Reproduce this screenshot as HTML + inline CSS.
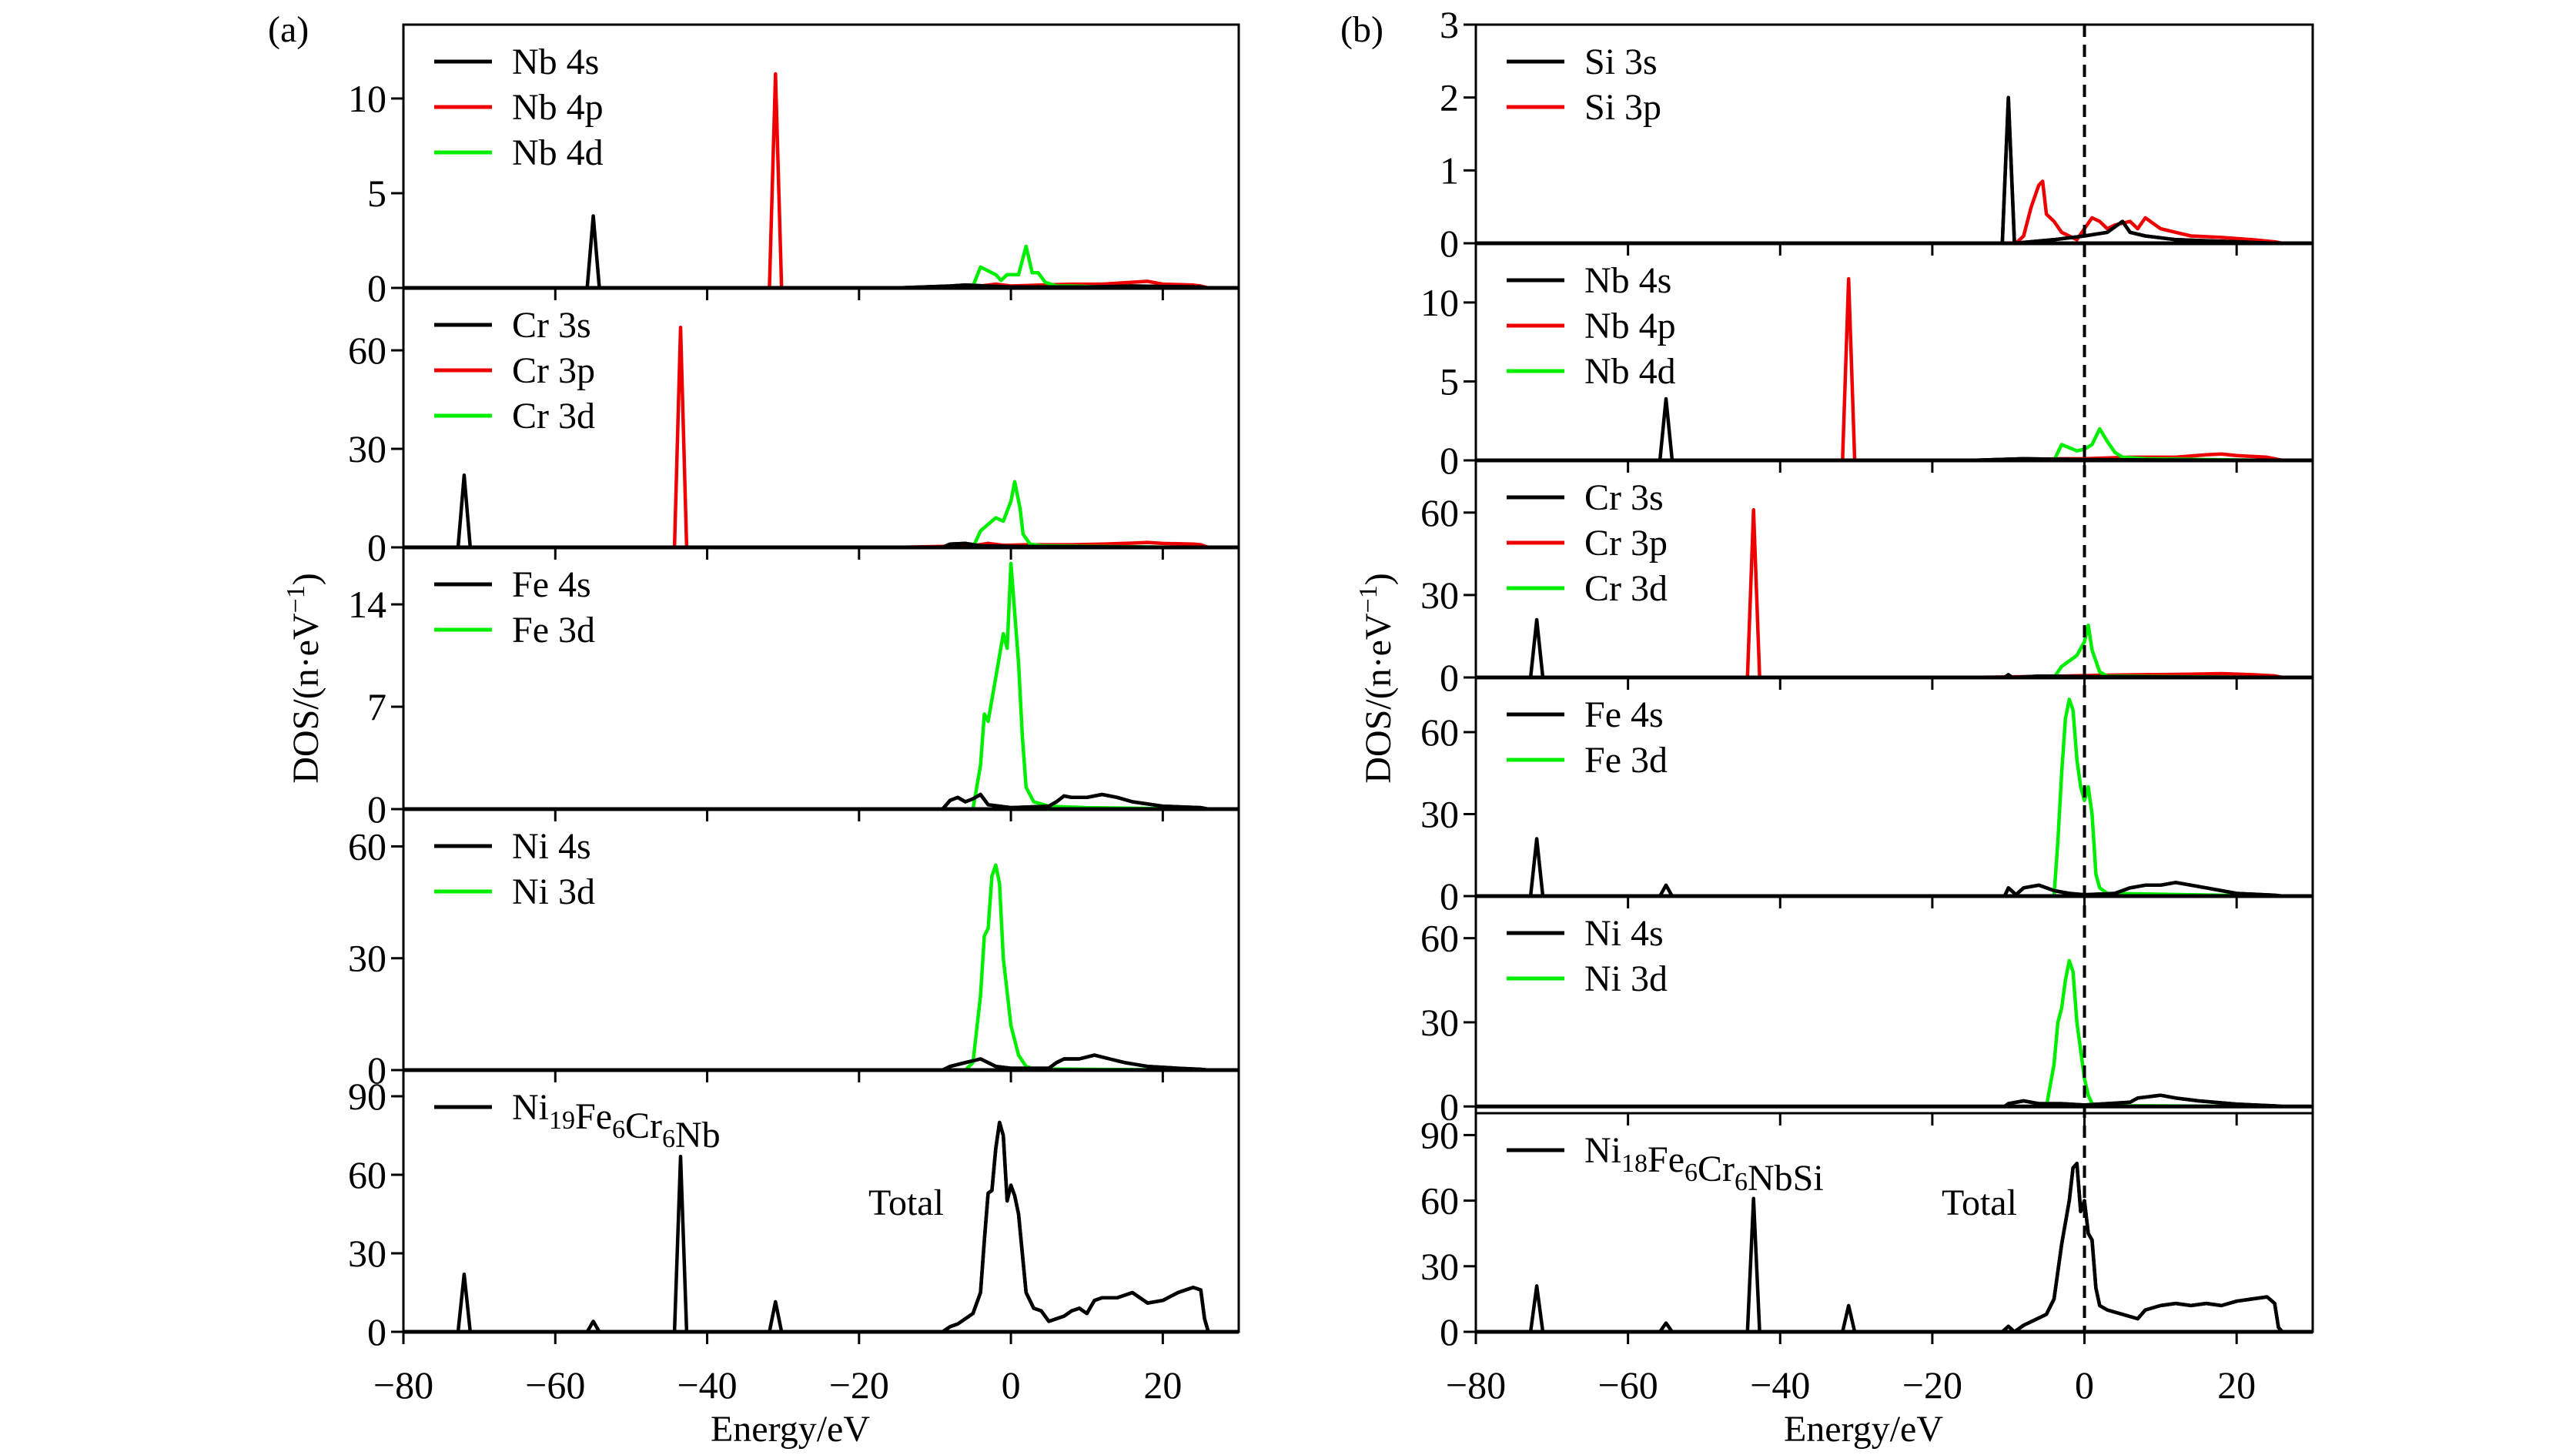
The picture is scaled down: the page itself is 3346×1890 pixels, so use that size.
<!DOCTYPE html>
<html><head><meta charset="utf-8"><style>
html,body{margin:0;padding:0;background:#fff;}
svg{display:block;font-family:"Liberation Serif",serif;}
</style></head><body>
<svg id="fig" width="3346" height="1890" viewBox="0 0 3346 1890" xmlns="http://www.w3.org/2000/svg"></svg>
<script>
const xTicks = [-80,-60,-40,-20,0,20];
const xTickLabels = ["\u221280","\u221260","\u221240","\u221220","0","20"];
// series: [energy, dos] pairs
const aNb4s = [[-74,0],[-55.8,0],[-55,3.8],[-54.2,0],[-15,0],[-8,0.1],[-6,0.15],[0,0.05],[10,0.05],[16,0.1],[25,0.05],[26,0]];
const aNb4p = [[-74,0],[-31.8,0],[-31,11.3],[-30.2,0],[-15,0],[-4,0.1],[-2,0.2],[0,0.1],[4,0.15],[8,0.2],[12,0.2],[16,0.3],[18,0.35],[20,0.2],[24,0.15],[25,0.1],[26,0]];
const aNb4d = [[-74,0],[-15,0],[-5,0.1],[-4,1.1],[-3,0.9],[-2,0.7],[-1.3,0.4],[-0.5,0.7],[1,0.7],[2,2.2],[2.8,0.8],[3.6,0.8],[4.5,0.3],[6,0.1],[8,0.1],[12,0.05],[25,0]];
const aCr3s = [[-74,0],[-72.8,0],[-72,22],[-71.2,0],[-15,0],[-9,0],[-8,1],[-6,1.2],[-4,0.5],[0,0.3],[25,0]];
const aCr3p = [[-74,0],[-44.3,0],[-43.5,67],[-42.7,0],[-15,0],[-5,0.5],[-3,1.2],[-1,0.6],[2,0.8],[8,0.8],[12,1],[16,1.3],[18,1.5],[20,1.2],[24,1],[25,0.8],[26,0]];
const aCr3d = [[-74,0],[-15,0],[-5,0],[-4,5],[-3,7],[-2,9],[-1,8],[0,14],[0.5,20],[1.2,12],[1.6,4],[2.5,1],[4,0.5],[10,0.3],[25,0]];
const aFe4s = [[-74,0],[-15,0],[-9,0],[-8,0.6],[-7,0.8],[-6,0.5],[-5,0.7],[-4,1.0],[-3,0.3],[0,0.1],[5,0.2],[6,0.5],[7,0.9],[8,0.8],[10,0.8],[12,1.0],[14,0.8],[16,0.5],[20,0.2],[25,0.1],[26,0]];
const aFe3d = [[-74,0],[-15,0],[-5,0],[-4,3],[-3.5,6.5],[-3,6],[-2,9],[-1,12],[-0.5,11],[0,16.8],[1,10],[1.5,5],[2,1.5],[3,0.5],[5,0.2],[10,0.1],[25,0]];
const aNi4s = [[-74,0],[-15,0],[-9,0],[-8,1],[-6,2],[-4,3],[-2,1],[0,0.5],[5,0.5],[6,2],[7,3],[9,3],[11,4],[13,3],[15,2],[18,1],[22,0.5],[25,0.2],[26,0]];
const aNi3d = [[-74,0],[-15,0],[-6,0],[-5,2],[-4,20],[-3.5,36],[-3,38],[-2.5,52],[-2,55],[-1.5,50],[-1,30],[0,12],[1,4],[2,1],[3,0.3],[25,0]];
const aTotal = [[-74,0],[-72.8,0],[-72,22],[-71.2,0],[-55.8,0],[-55,4],[-54.2,0],[-44.3,0],[-43.5,67],[-42.7,0],[-31.8,0],[-31,11.5],[-30.2,0],[-9,0],[-8,2],[-7,3],[-6,5],[-5,7],[-4,15],[-3.5,35],[-3,53],[-2.5,54],[-2,70],[-1.5,80],[-1,75],[-0.5,50],[0,56],[0.5,52],[1,45],[1.5,30],[2,15],[3,9],[4,8],[5,4],[6,5],[7,6],[8,8],[9,9],[10,7],[11,12],[12,13],[14,13],[16,15],[18,11],[20,12],[22,15],[24,17],[25,16],[25.5,5],[26,0],[27,0]];

const bSi3s = [[-74,0],[-15,0],[-10.8,0],[-10,2.0],[-9.2,0],[-4,0.05],[0,0.1],[3,0.15],[5,0.3],[6,0.15],[8,0.1],[12,0.05],[25,0]];
const bSi3p = [[-74,0],[-15,0],[-9,0],[-8,0.1],[-7,0.5],[-6,0.8],[-5.5,0.85],[-5,0.4],[-4,0.3],[-3,0.15],[-1,0.05],[0,0.2],[1,0.35],[2,0.3],[3,0.2],[4,0.25],[6,0.3],[7,0.2],[8,0.35],[10,0.2],[12,0.15],[14,0.1],[18,0.08],[22,0.05],[25,0.02],[26,0]];
const bNb4s = [[-74,0],[-55.8,0],[-55,3.9],[-54.2,0],[-15,0],[-8,0.1],[0,0.05],[25,0]];
const bNb4p = [[-74,0],[-31.8,0],[-31,11.5],[-30.2,0],[-15,0],[-3,0.1],[0,0.1],[6,0.2],[12,0.2],[16,0.35],[18,0.4],[20,0.3],[24,0.2],[25,0.1],[26,0]];
const bNb4d = [[-74,0],[-15,0],[-4,0],[-3,1.0],[-2,0.8],[-1,0.6],[0,0.7],[1,1.0],[2,2.0],[3,1.2],[4,0.5],[5,0.2],[8,0.1],[25,0]];
const bCr3s = [[-74,0],[-72.8,0],[-72,21],[-71.2,0],[-15,0],[-10.5,0],[-10,1],[-9.5,0],[-6,0.5],[0,0.3],[25,0]];
const bCr3p = [[-74,0],[-44.3,0],[-43.5,61],[-42.7,0],[-15,0],[-3,0.5],[2,0.8],[8,1],[14,1.2],[18,1.4],[22,1],[25,0.6],[26,0]];
const bCr3d = [[-74,0],[-15,0],[-4,0],[-3,4],[-2,6],[-1,8],[0,13],[0.5,19],[1,10],[2,2],[3,0.5],[10,0.3],[25,0]];
const bFe4s = [[-74,0],[-72.8,0],[-72,21],[-71.2,0],[-55.8,0],[-55,4],[-54.2,0],[-15,0],[-10.5,0],[-10,3],[-9,0.5],[-8,3],[-6,4],[-4,2],[-2,1],[0,0.5],[4,1],[6,3],[8,4],[10,4],[12,5],[14,4],[16,3],[20,1],[25,0.3],[26,0]];
const bFe3d = [[-74,0],[-15,0],[-4,0],[-3.5,20],[-3,45],[-2.5,65],[-2,72],[-1.5,68],[-1,50],[-0.5,40],[0,35],[0.5,40],[1,30],[1.5,8],[2,3],[3,1],[25,0]];
const bNi4s = [[-74,0],[-15,0],[-10.5,0],[-10,1],[-8,2],[-6,1],[-3,1],[0,0.5],[6,1.5],[7,3],[10,4],[12,3],[15,2],[20,0.8],[25,0.2],[26,0]];
const bNi3d = [[-74,0],[-15,0],[-5,0],[-4,15],[-3.5,30],[-3,35],[-2.5,45],[-2,52],[-1.5,48],[-1,30],[0,10],[0.5,4],[1,1],[2,0.3],[25,0]];
const bTotal = [[-74,0],[-72.8,0],[-72,21],[-71.2,0],[-55.8,0],[-55,4],[-54.2,0],[-44.3,0],[-43.5,61],[-42.7,0],[-31.8,0],[-31,12],[-30.2,0],[-10.8,0],[-10,2.5],[-9.2,0],[-8,3],[-5,8],[-4,15],[-3,40],[-2,60],[-1.5,75],[-1,77],[-0.5,55],[0,60],[0.5,45],[1,42],[1.5,20],[2,12],[3,10],[5,8],[7,6],[8,10],[10,12],[12,13],[14,12],[16,13],[18,12],[20,14],[22,15],[24,16],[25,13],[25.5,2],[26,0],[27,0]];

const NS="http://www.w3.org/2000/svg";
const svg=document.getElementById('fig');
function mk(tag,attrs,parent){const e=document.createElementNS(NS,tag);for(const k in attrs)e.setAttribute(k,attrs[k]);(parent||svg).appendChild(e);return e;}
const BLK="#000",RED="#ee0000",GRN="#00ee00";
const XMIN=-80, XMAX=30;
let clipId=0;
function panel(g,x0,x1,yTop,yBot,ymin,ymax,yTicks,series,legend,name,showX){
  const X=e=>x0+(e-XMIN)/(XMAX-XMIN)*(x1-x0);
  const Y=v=>yBot-(v-ymin)/(ymax-ymin)*(yBot-yTop);
  const pg=mk('g',{},g);
  
  
  const cid='c'+(clipId++);
  const cp=mk('clipPath',{id:cid},pg);
  mk('rect',{x:X(-15),y:yTop-200,width:x1-X(-15),height:yBot-yTop+400},cp);
  const draw=(s,clip)=>{
    const p=mk('polyline',{points:s.d.map(q=>X(q[0]).toFixed(1)+','+Y(q[1]).toFixed(1)).join(' '),fill:'none',stroke:s.c,'stroke-width':4.5,'stroke-linejoin':'round'},pg);
    if(clip)p.setAttribute('clip-path','url(#'+cid+')');
    
    
  };
  series.forEach(s=>draw(s,false));
  series.forEach(s=>{if(s.c===BLK)draw(s,true);});
  const sp=mk('path',{d:`M${x0},${yTop}H${x1}V${yBot}H${x0}Z`,fill:'none',stroke:'#000','stroke-width':3},pg);
  
  
  mk('line',{x1:x0,x2:x1,y1:Y(0),y2:Y(0),stroke:'#000','stroke-width':5},pg);
  yTicks.forEach(t=>{
    mk('line',{x1:x0-16,x2:x0,y1:Y(t),y2:Y(t),stroke:'#000','stroke-width':3},pg);
    const tx=mk('text',{x:x0-22,y:Y(t)+17,'text-anchor':'end','font-size':50},pg);
    tx.textContent=String(t);
    
    
  });
  xTicks.forEach((t,i)=>{
    mk('line',{x1:X(t),x2:X(t),y1:yBot,y2:yBot+16,stroke:'#000','stroke-width':3},pg);
    if(showX){
      const tx=mk('text',{x:X(t),y:yBot+86,'text-anchor':'middle','font-size':50},pg);
      tx.textContent=xTickLabels[i];
      
      
    }
  });
  legend.forEach((L,i)=>{
    const ly=L.y;
    mk('line',{x1:x0+40,x2:x0+115,y1:ly,y2:ly,stroke:L.c,'stroke-width':5},pg);
    const tx=mk('text',{x:x0+141,y:ly+16,'font-size':48},pg);
    tx.innerHTML=L.t;
    
    
  });
  return X;
}
function column(x0,x1,bounds,defs,label){
  const g=mk('g',{});
  
  
  defs.forEach((d,i)=>{
    panel(g,x0,x1,bounds[i],bounds[i+1],d.ymin||0,d.ymax,d.ticks,d.series,
      d.leg.map((l,j)=>({t:l[0],c:l[1],y:bounds[i]+48+j*59})),d.name,i===defs.length-1);
  });
  const pl=mk('text',{x:x0-176,y:54,'font-size':48},g);pl.textContent='('+label+')';
  
  
  const yl=mk('text',{x:0,y:0,'font-size':48,'text-anchor':'middle',transform:`translate(${x0-111},${(bounds[0]+bounds[bounds.length-1])/2}) rotate(-90)`},g);
  yl.innerHTML='DOS/(n·eV<tspan dy="-18" font-size="34">\u22121</tspan><tspan dy="18">)</tspan>';
  
  
  const xl=mk('text',{x:(x0+x1)/2-40,y:1872,'font-size':48,'text-anchor':'middle'},g);
  xl.textContent='Energy/eV';
  
  
  return g;
}
const sub=(s)=>`<tspan dy="12" font-size="34">${s}</tspan><tspan dy="-12"></tspan>`;
column(524,1609,[32,374,711,1051,1390,1730],[
 {name:'nb-panel',ymax:13.9,ticks:[0,5,10],series:[{n:'nb-4s',c:BLK,d:aNb4s},{n:'nb-4p',c:RED,d:aNb4p},{n:'nb-4d',c:GRN,d:aNb4d}],leg:[['Nb 4s',BLK],['Nb 4p',RED],['Nb 4d',GRN]]},
 {name:'cr-panel',ymax:79,ticks:[0,30,60],series:[{n:'cr-3s',c:BLK,d:aCr3s},{n:'cr-3p',c:RED,d:aCr3p},{n:'cr-3d',c:GRN,d:aCr3d}],leg:[['Cr 3s',BLK],['Cr 3p',RED],['Cr 3d',GRN]]},
 {name:'fe-panel',ymax:17.9,ticks:[0,7,14],series:[{n:'fe-4s',c:BLK,d:aFe4s},{n:'fe-3d',c:GRN,d:aFe3d}],leg:[['Fe 4s',BLK],['Fe 3d',GRN]]},
 {name:'ni-panel',ymax:70,ticks:[0,30,60],series:[{n:'ni-4s',c:BLK,d:aNi4s},{n:'ni-3d',c:GRN,d:aNi3d}],leg:[['Ni 4s',BLK],['Ni 3d',GRN]]},
 {name:'total-panel',ymax:100,ticks:[0,30,60,90],series:[{n:'total',c:BLK,d:aTotal}],leg:[['Ni'+sub('19')+'Fe'+sub('6')+'Cr'+sub('6')+'Nb',BLK]]}
],'a');
const BX0=1917, BX1=3004;
const gb=column(BX0,BX1,[32,316,598,880,1164,1446,1730],[
 {name:'si-panel',ymax:3,ticks:[0,1,2,3],series:[{n:'si-3p',c:RED,d:bSi3p},{n:'si-3s',c:BLK,d:bSi3s}],leg:[['Si 3s',BLK],['Si 3p',RED]]},
 {name:'nb-panel-b',ymax:13.75,ticks:[0,5,10],series:[{n:'nb-4s',c:BLK,d:bNb4s},{n:'nb-4p',c:RED,d:bNb4p},{n:'nb-4d',c:GRN,d:bNb4d}],leg:[['Nb 4s',BLK],['Nb 4p',RED],['Nb 4d',GRN]]},
 {name:'cr-panel-b',ymax:79,ticks:[0,30,60],series:[{n:'cr-3s',c:BLK,d:bCr3s},{n:'cr-3p',c:RED,d:bCr3p},{n:'cr-3d',c:GRN,d:bCr3d}],leg:[['Cr 3s',BLK],['Cr 3p',RED],['Cr 3d',GRN]]},
 {name:'fe-panel-b',ymax:80,ticks:[0,30,60],series:[{n:'fe-4s',c:BLK,d:bFe4s},{n:'fe-3d',c:GRN,d:bFe3d}],leg:[['Fe 4s',BLK],['Fe 3d',GRN]]},
 {name:'ni-panel-b',ymin:-2.4,ymax:75,ticks:[0,30,60],series:[{n:'ni-4s',c:BLK,d:bNi4s},{n:'ni-3d',c:GRN,d:bNi3d}],leg:[['Ni 4s',BLK],['Ni 3d',GRN]]},
 {name:'total-panel-b',ymax:100,ticks:[0,30,60,90],series:[{n:'total',c:BLK,d:bTotal}],leg:[['Ni'+sub('18')+'Fe'+sub('6')+'Cr'+sub('6')+'NbSi',BLK]]}
],'b');
const fx=BX0+(0-XMIN)/(XMAX-XMIN)*(BX1-BX0);
const fl=mk('line',{x1:fx,x2:fx,y1:32,y2:1730,stroke:'#000','stroke-width':4,'stroke-dasharray':'16,10'},gb);


[[1128,'a'],[2522,'b']].forEach(p=>{
  const t=mk('text',{x:p[0],y:1578,'font-size':48});
  t.textContent='Total';
  
  
});
</script>
</body></html>
